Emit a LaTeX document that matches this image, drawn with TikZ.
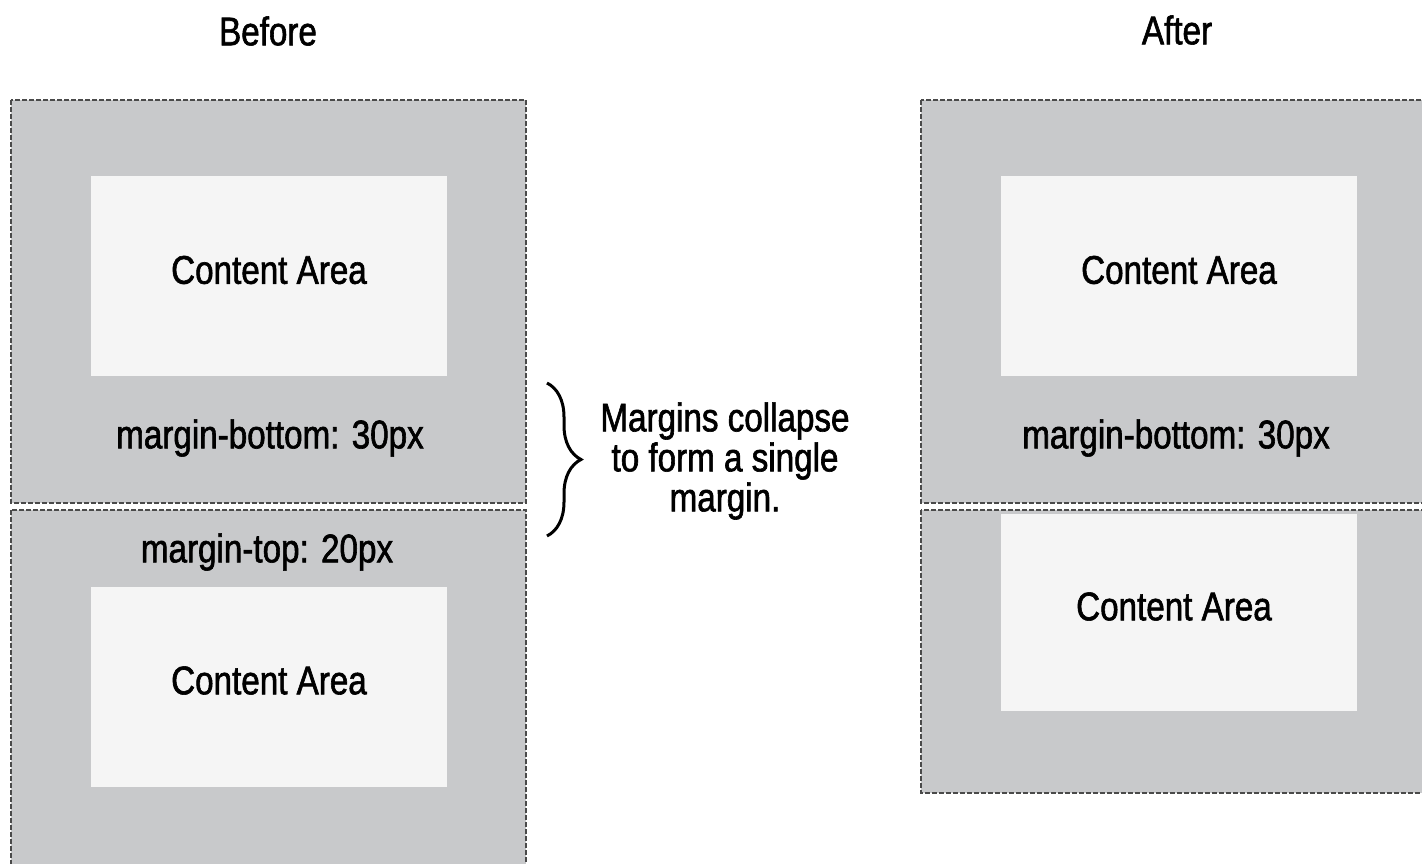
\documentclass[tikz,border=0pt]{standalone}
\usepackage{fontspec}
\setmainfont{Liberation Sans}[FakeStretch=0.83, FakeBold=1.5]
\usetikzlibrary{decorations.pathreplacing}
\definecolor{boxgray}{HTML}{C8C9CB}
\definecolor{contentwhite}{HTML}{F5F5F5}
\definecolor{edgegray}{HTML}{4A4A4A}

\tikzset{
    marginbox/.style={fill=boxgray, draw=edgegray, line width=1.3pt, dash pattern=on 5pt off 2pt},
    contentbox/.style={fill=contentwhite, inner sep=0pt, minimum width=356pt, minimum height=200pt},
    lbl/.style={font=\fontsize{40}{40}\selectfont, inner sep=0pt}
}

\begin{document}
\begin{tikzpicture}[x=1pt,y=-1pt]
    \useasboundingbox (0,0) rectangle (1422,864);
    \clip (0,0) rectangle (1422,864);
    % before
    \draw[marginbox] (11,100) rectangle (526,503);
    \draw[marginbox] (11,510) rectangle (526,880);
    \node[contentbox, label={[lbl, yshift=6pt]center:Content Area}] (beforetop) at (269,276) {};
    \node[contentbox, label={[lbl, yshift=6pt]center:Content Area}] (beforebottom) at (269,686.5) {};
    \node[lbl] (beforetitle) at (268,31) {Before};
    \node[lbl] (beforemb) at (270,438) {margin-bottom: 30px};
    \node[lbl] (beforemt) at (267,552) {margin-top: 20px};
    % after
    \draw[marginbox] (921,100) rectangle (1440,503);
    \draw[marginbox] (921,510) rectangle (1440,793);
    \node[contentbox, label={[lbl, yshift=6pt]center:Content Area}] (aftertop) at (1179,276) {};
    \node[contentbox, minimum height=197pt, label={[lbl, yshift=6pt, xshift=-5pt]center:Content Area}] (afterbottom) at (1179,612.5) {};
    \node[lbl] (aftertitle) at (1177,30) {After};
    \node[lbl] (aftermb) at (1176,438) {margin-bottom: 30px};
    % brace
    \coordinate (bracetop) at (547,383);
    \coordinate (bracebot) at (547,536);
    \draw[line width=3pt, decorate, decoration={brace, amplitude=34pt, aspect=0.5}] (bracetop) -- (bracebot);
    \node[lbl, align=center] (collapse) at (725,461) {Margins collapse\\to form a single\\margin.};
\end{tikzpicture}
\end{document}
